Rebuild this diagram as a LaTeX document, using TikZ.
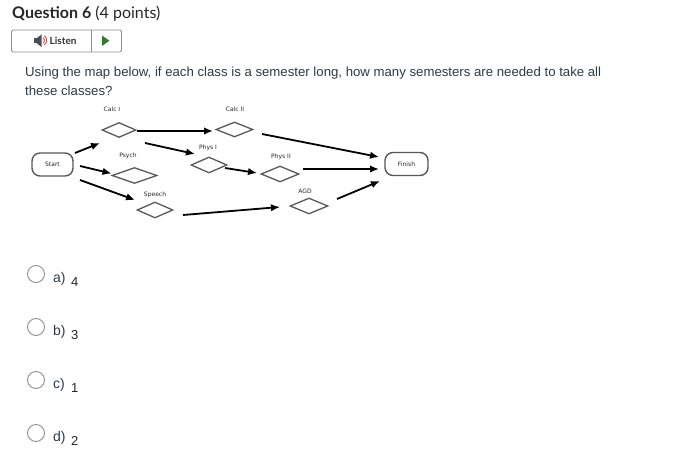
\documentclass[tikz,border=0pt]{standalone}
\usepackage{fontspec}
\setmainfont{Liberation Sans}
\newfontfamily\latofont{Lato}
\newfontfamily\handfont{DejaVu Sans}
\usetikzlibrary{arrows.meta,shapes.geometric,calc}
\definecolor{qtext}{HTML}{2D3B45}
\definecolor{diagray}{HTML}{595959}
\definecolor{btnborder}{HTML}{8A8F95}
\definecolor{playgreen}{HTML}{2E7D32}
\definecolor{spk}{HTML}{4A4D5A}
\definecolor{spkred}{HTML}{E0553A}
\begin{document}
\begin{tikzpicture}[x=1pt,y=-1pt,
  dia/.style={draw=diagray, line width=1.3pt, fill=white, shape=diamond, inner sep=0pt},
  term/.style={draw=diagray, line width=1.4pt, rounded corners=8pt, fill=white, inner sep=0pt, minimum width=41pt, minimum height=23pt, font=\handfont\fontsize{6}{7}\selectfont, text=black!85},
  lbl/.style={inner sep=0pt, font=\handfont\fontsize{6}{7}\selectfont, text=black!85},
  arr/.style={line width=1.8pt, -{Latex[length=9pt,width=7.5pt]}},
  radio/.style={circle, draw=btnborder, line width=0.9pt, fill=white, minimum size=17pt, inner sep=0pt},
  opt/.style={anchor=base west, inner sep=0pt, text=qtext, font=\fontsize{14}{16}\selectfont},
  ans/.style={anchor=base west, inner sep=0pt, text=black!85, font=\fontsize{13}{15}\selectfont}
]
\useasboundingbox (0,0) rectangle (676,457);

% title
\node[anchor=base west, inner sep=0pt, text=black!85, font=\latofont\fontsize{16}{19}\selectfont] (title) at (12,18.5) {\textbf{Question 6} (4 points)};

% listen button
\node[draw=btnborder, line width=0.8pt, rounded corners=1.5pt, minimum width=110pt, minimum height=22pt, inner sep=0pt] (listenbox) at (66.5,41) {};
\draw[btnborder, line width=0.8pt] ($(listenbox.north)+(24.5,0)$) -- ($(listenbox.south)+(24.5,0)$);
\fill[spk] (33.5,38) rectangle (37,43.5);
\fill[spk] (37,38) -- (41.5,34.5) -- (41.5,47) -- (37,43.5) -- cycle;
\draw[spkred, line width=1pt] (43,37.8) arc[start angle=60, end angle=-60, radius=3pt];
\draw[spkred, line width=1pt] (44.3,35.8) arc[start angle=55, end angle=-55, radius=5.5pt];
\node[anchor=base west, inner sep=0pt, text=black!80, font=\latofont\bfseries\fontsize{10}{12}\selectfont] (listen) at (49.5,44.5) {Listen};
\fill[playgreen] (102,35.5) -- (109.5,40.8) -- (102,46) -- cycle;

% question text
\node[anchor=base west, inner sep=0pt, text=qtext, font=\fontsize{13.2}{15}\selectfont] (q1) at (25,77) {Using the map below, if each class is a semester long, how many semesters are needed to take all};
\node[anchor=base west, inner sep=0pt, text=qtext, font=\fontsize{13.2}{15}\selectfont] (q2) at (25,96) {these classes?};

% diagram
\node[term] (start) at (52.5,164.5) {Start};
\node[term, minimum width=43pt] (finish) at (406.5,164) {Finish};
\node[dia, minimum width=34pt, minimum height=15pt] (calc1) at (119,130) {};
\node[dia, minimum width=37pt, minimum height=15pt] (calc2) at (234.5,129.5) {};
\node[dia, minimum width=45pt, minimum height=16pt] (psych) at (134.5,175.5) {};
\node[dia, minimum width=36pt, minimum height=16pt] (phys1) at (209,165) {};
\node[dia, minimum width=38pt, minimum height=16pt] (phys2) at (280,174) {};
\node[dia, minimum width=36pt, minimum height=16pt] (speech) at (155,210) {};
\node[dia, minimum width=38pt, minimum height=16pt] (agd) at (309,206) {};

\node[lbl] (lcalc1) at (112,109.5) {Calc I};
\node[lbl] (lcalc2) at (235,109) {Calc II};
\node[lbl] (lpsych) at (128,156) {Psych};
\node[lbl] (lphys1) at (208,148) {Phys I};
\node[lbl] (lphys2) at (281,157) {Phys II};
\node[lbl] (lspeech) at (155,195) {Speech};
\node[lbl] (lagd) at (305,191) {AGD};

\draw[arr] ($(start)+(22.5,-11.5)$) -- ($(calc1)+(-19,13)$);
\draw[arr] ($(start)+(27.5,1.5)$) -- ($(psych)+(-23,-2)$);
\draw[arr] ($(start)+(27.5,15.5)$) -- ($(speech)+(-20,-10)$);
\draw[arr] ($(calc1)+(18,1)$) -- ($(calc2)+(-21.5,1.5)$);
\draw[arr] ($(calc1)+(26,13)$) -- ($(phys1)+(-14,-11)$);
\draw[arr] ($(speech)+(28,5)$) -- ($(agd)+(-29,1)$);
\draw[arr] ($(phys1)+(16,3)$) -- ($(phys2)+(-23,-1)$);
\draw[arr] ($(calc2)+(27.5,4.5)$) -- ($(finish)+(-27.5,-7)$);
\draw[arr] ($(phys2)+(23,-5)$) -- ($(finish)+(-27.5,5)$);
\draw[arr] ($(agd)+(28,-7)$) -- ($(finish)+(-26.5,17)$);

% answers
\node[radio] (ra) at (36,274) {};
\node[opt] (la) at (53,282) {a)};
\node[ans] (na) at (71,286.5) {4};
\node[radio] (rb) at (36,327) {};
\node[opt] (lb) at (53,335) {b)};
\node[ans] (nb) at (71,339.5) {3};
\node[radio] (rc) at (36,380) {};
\node[opt] (lc) at (53,388) {c)};
\node[ans] (nc) at (71,392.5) {1};
\node[radio] (rd) at (36,433) {};
\node[opt] (ld) at (53,441) {d)};
\node[ans] (nd) at (71,445.5) {2};
\end{tikzpicture}
\end{document}
